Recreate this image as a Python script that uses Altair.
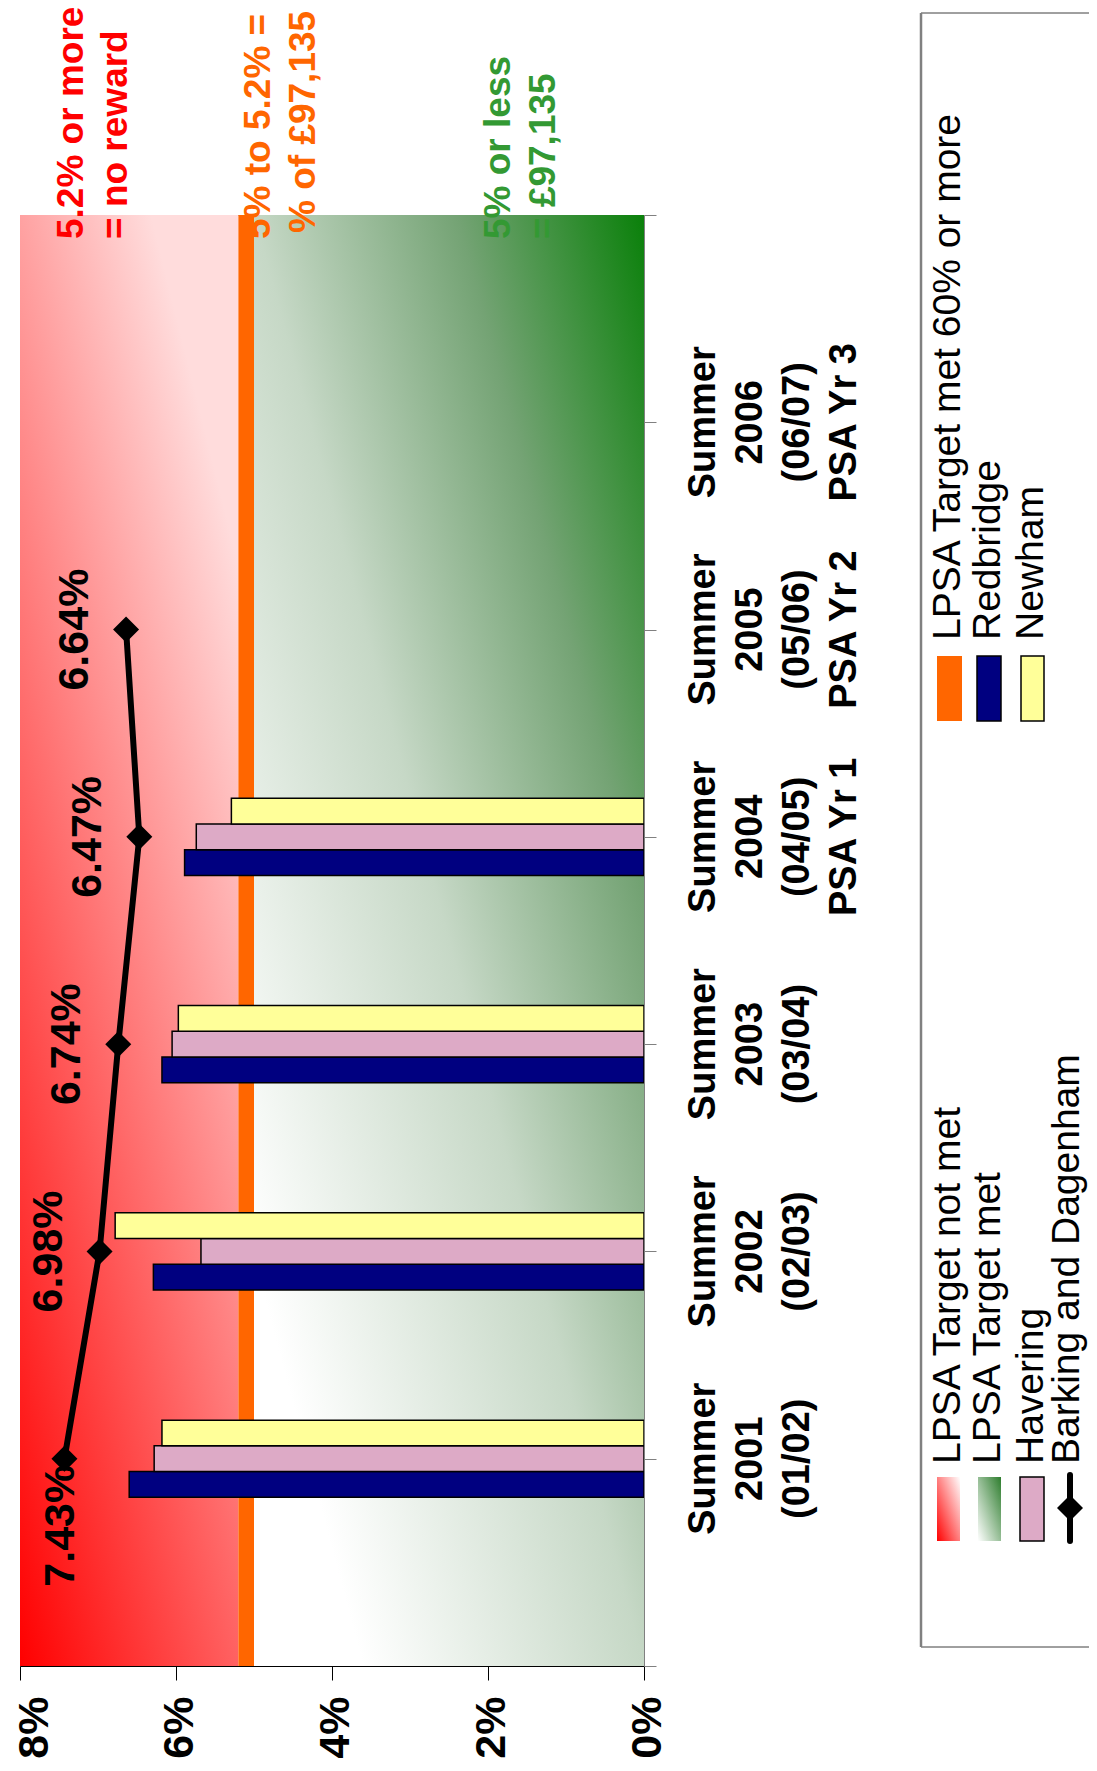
import altair as alt
import pandas as pd

FONT = "Liberation Sans, Arial, Helvetica, sans-serif"

# ---------------- data ----------------
cat_pos = [1, 2, 3, 4, 5, 6]
cat_labels = [
    "Summer\n2001\n(01/02)",
    "Summer\n2002\n(02/03)",
    "Summer\n2003\n(03/04)",
    "Summer\n2004\n(04/05)\nPSA Yr 1",
    "Summer\n2005\n(05/06)\nPSA Yr 2",
    "Summer\n2006\n(06/07)\nPSA Yr 3",
]
bar_series = ["Redbridge", "Havering", "Newham"]
redbridge = [6.60, 6.29, 6.18, 5.89]
havering = [6.28, 5.68, 6.05, 5.74]
newham = [6.18, 6.78, 5.97, 5.29]
barking = [7.43, 6.98, 6.74, 6.47, 6.64]
barking_labels = ["7.43%", "6.98%", "6.74%", "6.47%", "6.64%"]
x_ticks = [0, 2, 4, 6, 8]
x_max = 8
cat_slots = 7
target_met = 5.0       # 5% or less
target_partial = 5.2   # 5% to 5.2%
note_red = ["5.2% or more", "= no reward"]
note_orange = ["5% to 5.2% =", "% of £97,135"]
note_green = ["5% or less", "= £97,135"]
legend_left = ["LPSA Target not met", "LPSA Target met", "Havering", "Barking and Dagenham"]
legend_right = ["LPSA Target met 60% or more", "Redbridge", "Newham"]

# ---------------- styles ----------------
NAVY, PINK, YELLOW, ORANGE = "#000080", "#DDAAC6", "#FFFF99", "#FF6600"
W, H = 624, 1451
BAR_W = 0.124

xscale = alt.Scale(domain=[0, x_max], reverse=True, nice=False, zero=True)
yscale = alt.Scale(domain=[0, cat_slots], nice=False, zero=True)

X_AX = alt.Axis(
    values=x_ticks, labelExpr="datum.value + '%'", labelAngle=270,
    labelFontSize=43, labelFontWeight="bold", labelFont=FONT, labelColor="black",
    tickSize=14, tickColor="black", tickWidth=1, domainColor="black", domainWidth=1,
    labelPadding=16,
    labelOffset={"condition": {"test": f"datum.value == {x_max}", "value": 14}, "value": 3},
    grid=False, zindex=1, labelFlush=False, labelOverlap=False,
    title=None)
Y_AX = alt.Axis(
    orient="right", values=list(range(cat_slots + 1)), labels=False,
    tickSize=12, tickColor="#808080", tickWidth=1, domainColor="#808080", domainWidth=1,
    grid=False, zindex=1, title=None)

def XQ(field):
    return alt.X(field, type="quantitative", scale=xscale, axis=X_AX, title=None)

def YQ(field):
    return alt.Y(field, type="quantitative", scale=yscale, axis=Y_AX, title=None)

rows = []
for k, (name, vals) in enumerate(zip(bar_series, [redbridge, havering, newham])):
    for j, v in enumerate(vals):
        rows.append({"pos": cat_pos[j], "series": name, "slot": k - 1, "value": v})
bars_df = pd.DataFrame(rows)
line_df = pd.DataFrame({"pos": cat_pos[:len(barking)], "value": barking, "label": barking_labels})
cat_df = pd.DataFrame({"pos": cat_pos, "label": cat_labels})
ONE = pd.DataFrame({"a": [0]})

def region(lo, hi, fill):
    df = pd.DataFrame({"lo": [lo], "hi": [hi], "ylo": [0], "yhi": [cat_slots]})
    return alt.Chart(df).mark_rect(fill=fill).encode(
        x=XQ("lo"), x2="hi:Q", y=YQ("ylo"), y2="yhi:Q",
    )

red_grad = alt.LinearGradient(
    gradient="linear",
    stops=[alt.GradientStop(color="#FF0000", offset=0), alt.GradientStop(color="#FFDCDC", offset=1)],
    x1=0, y1=1, x2=0.6, y2=0,
)
green_grad = alt.LinearGradient(
    gradient="linear",
    stops=[
        alt.GradientStop(color="#FFFFFF", offset=0),
        alt.GradientStop(color="#FFFFFF", offset=0.14),
        alt.GradientStop(color="#C6D8C6", offset=0.5),
        alt.GradientStop(color="#74A374", offset=0.76),
        alt.GradientStop(color="#0A800A", offset=1),
    ],
    x1=0, y1=1, x2=1, y2=0,
)

def vtext(lines, x, y, size, color="black", weight="normal", align="left", baseline="alphabetic"):
    return alt.Chart(ONE).mark_text(
        text=lines, angle=270, align=align, baseline=baseline, font=FONT,
        fontSize=size, fontWeight=weight, color=color,
    ).encode(x=alt.value(x), y=alt.value(y))

def vrect(x1, x2, y1, y2, **mark):
    return alt.Chart(ONE).mark_rect(**mark).encode(
        x=alt.value(x1), x2=alt.value(x2), y=alt.value(y1), y2=alt.value(y2))

def vrule(x1, x2, y1, y2, **mark):
    return alt.Chart(ONE).mark_rule(**mark).encode(
        x=alt.value(x1), x2=alt.value(x2), y=alt.value(y1), y2=alt.value(y2))

bars = alt.Chart(bars_df).transform_calculate(
    y0=f"datum.pos + datum.slot*{BAR_W} - {BAR_W/2}",
    y1=f"datum.pos + datum.slot*{BAR_W} + {BAR_W/2}",
    zero="0",
).mark_rect(stroke="black", strokeWidth=1.5).encode(
    x=XQ("value"), x2="zero:Q",
    y=YQ("y0"), y2="y1:Q",
    fill=alt.Fill("series:N", scale=alt.Scale(domain=bar_series, range=[NAVY, PINK, YELLOW]), legend=None),
)

line = alt.Chart(line_df).mark_line(color="black", strokeWidth=6).encode(
    x=XQ("value"), y=YQ("pos"), order="pos:Q",
)
points = alt.Chart(line_df).mark_point(shape="diamond", filled=True, size=676, color="black", opacity=1).encode(
    x=XQ("value"), y=YQ("pos"),
)
labels_rest = alt.Chart(line_df).transform_filter("datum.pos > 1").mark_text(
    angle=270, align="center", baseline="alphabetic", dy=-38, font=FONT,
    fontSize=43, fontWeight="bold", color="black",
).encode(x=XQ("value"), y=YQ("pos"), text="label:N")
label_first = alt.Chart(line_df).transform_filter("datum.pos == 1").mark_text(
    angle=270, align="right", baseline="middle", dx=-6, dy=-3, font=FONT,
    fontSize=43, fontWeight="bold", color="black",
).encode(x=XQ("value"), y=YQ("pos"), text="label:N")

cats = alt.Chart(cat_df).mark_text(
    angle=270, align="center", baseline="alphabetic", lineBreak="\n", lineHeight=47,
    font=FONT, fontSize=38, fontWeight="bold", color="black",
).encode(x=alt.value(W + 71), y=YQ("pos"), text="label:N")

notes = [
    vtext(note_red[0], 63, 24, 37, "#FF0000", "bold"),
    vtext(note_red[1], 107, 24, 37, "#FF0000", "bold"),
    vtext(note_orange[0], 250, 24, 37, ORANGE, "bold"),
    vtext(note_orange[1], 295, 18, 37, ORANGE, "bold"),
    vtext(note_green[0], 490, 24, 37, "#339933", "bold"),
    vtext(note_green[1], 535, 24, 37, "#339933", "bold"),
]

# legend (drawn rotated, like the rest of the picture)
leg_red = alt.LinearGradient(gradient="linear",
    stops=[alt.GradientStop(color="#FF0000", offset=0), alt.GradientStop(color="#FFFFFF", offset=1)],
    x1=0, y1=1, x2=1, y2=0)
leg_green = alt.LinearGradient(gradient="linear",
    stops=[alt.GradientStop(color="#FFFFFF", offset=0), alt.GradientStop(color="#2E7D2E", offset=1)],
    x1=0, y1=1, x2=1, y2=0)

BOX_L, BOX_R, BOX_T, BOX_B = 901, 1075, -202, 1432
legend = [
    vrect(BOX_L, BOX_R, BOX_T, BOX_B, fill="white"),
    vrule(BOX_L, BOX_R, BOX_T, BOX_T, color="#404040", strokeWidth=1),
    vrule(BOX_L, BOX_R, BOX_B, BOX_B, color="#404040", strokeWidth=1),
    vrule(BOX_L, BOX_L, BOX_T, BOX_B, color="#808080", strokeWidth=2.5),
    vrect(917, 940, 1262, 1326, fill=leg_red),
    vrect(958, 981, 1262, 1326, fill=leg_green),
    vrect(1000, 1024, 1262, 1326, fill=PINK, stroke="black", strokeWidth=1.5),
    vrule(1050, 1050, 1260, 1326, color="black", strokeWidth=6, strokeCap="round"),
    alt.Chart(ONE).mark_point(shape="diamond", filled=True, size=676, color="black", opacity=1).encode(
        x=alt.value(1050), y=alt.value(1293)),
    vrect(917, 942, 441, 506, fill=ORANGE),
    vrect(957, 981, 441, 506, fill=NAVY, stroke="black", strokeWidth=1.5),
    vrect(1001, 1024, 441, 506, fill=YELLOW, stroke="black", strokeWidth=1.5),
    vtext(legend_left[0], 940, 1249, 39),
    vtext(legend_left[1], 980, 1249, 39),
    vtext(legend_left[2], 1023, 1249, 39),
    vtext(legend_left[3], 1059, 1249, 39),
    vtext(legend_right[0], 940, 425, 39),
    vtext(legend_right[1], 980, 425, 39),
    vtext(legend_right[2], 1023, 425, 39),
]

chart = alt.layer(
    region(target_partial, x_max, red_grad),
    region(0, target_met, green_grad),
    *notes,
    region(target_met, target_partial, ORANGE),
    bars,
    line,
    points,
    labels_rest,
    label_first,
    cats,
    *legend,
).properties(
    width=W,
    height=H,
    autosize=alt.AutoSizeParams(type="none"),
    padding={"left": 12, "top": 207, "right": 445, "bottom": 97},
    background="white",
).configure_view(stroke="#A0A0A0", strokeWidth=1)

chart.save("out.html", embed_options={"renderer": "svg", "actions": False})
